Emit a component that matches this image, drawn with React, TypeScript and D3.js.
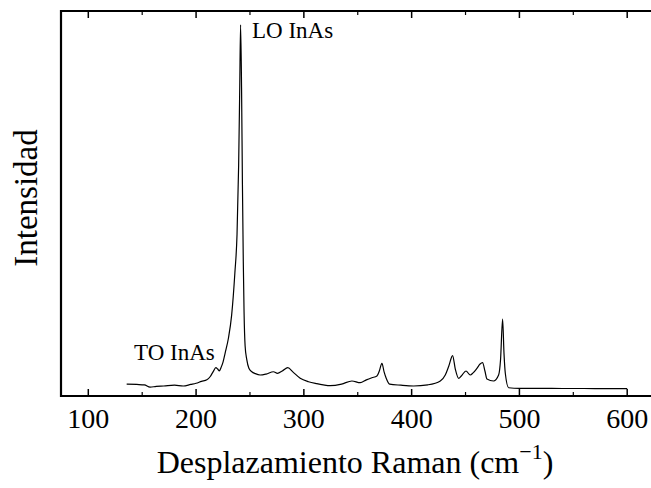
import React from "react";
import * as d3 from "d3";

const wavenumbers = [
  135.6, 145, 152, 157.3, 163, 170, 180, 188, 195, 200, 205, 210, 213, 216, 218.3, 220, 221.6, 223, 225,
  227, 230, 233, 236, 238, 239.5, 240.5, 241.3, 242.2, 243, 243.8, 244.5, 245.5, 247, 249, 251.7,
  255, 259.4, 265, 271.8, 275.5, 280, 285.1, 290, 296.6, 304.3, 312, 318, 324.3, 335, 344.6, 352.3,
  358, 363.1, 367.8, 370, 372.4, 374.5, 376.4, 379.5, 390, 401.8, 415, 426.6, 431.2, 434.5, 438, 440.5,
  443.6, 446.1, 450.4, 454.4, 457, 460.6, 463.5, 465.8, 468, 469.9, 476, 480.7, 482.5, 484.4, 485.7,
  486.9, 490, 500, 520, 540, 560, 580, 600,
];
const intensities = [
  3.1, 3.0, 2.9, 2.3, 2.5, 2.6, 2.8, 2.6, 3.0, 3.3, 3.8, 4.2, 5.0, 6.4, 7.35, 7.0, 6.5, 7.3, 8.8,
  11.2, 15, 21, 32, 42, 60, 80, 96.4, 80, 55, 35, 22, 13, 9.5, 7.2, 6.3,
  5.8, 5.45, 5.7, 6.3, 5.9, 6.5, 7.35, 6.2, 4.6, 3.7, 3.2, 2.9, 2.7, 3.1, 3.9, 3.45,
  4.2, 4.75, 5.2, 6.5, 8.5, 6.2, 4.6, 3.1, 2.8, 2.6, 2.9, 3.9, 5.45, 7.8, 10.5, 7.0,
  4.6, 5.2, 6.5, 5.45, 6.0, 7.2, 8.3, 8.65, 6.5, 4.4, 3.9, 5.45, 9.5, 20, 11,
  5.9, 2.15, 2.0, 2.0, 1.95, 1.95, 1.9, 1.9,
];

const xTickValues = [100, 200, 300, 400, 500, 600];
const xMinorTickValues = [150, 250, 350, 450, 550];
const peakLabels = ["LO InAs", "TO InAs"];
const xTitle = "Desplazamiento Raman (cm";
const yTitle = "Intensidad";

export default function App() {
  const width = 651;
  const height = 488;
  const left = 61;
  const top = 11;
  const bottom = 396;

  const x = d3.scaleLinear().domain([100, 600]).range([88.3, 627.2]);
  const y = d3.scaleLinear().domain([0, 100]).range([bottom, top]);

  const pts: [number, number][] = wavenumbers.map((w, i) => [w, intensities[i]]);
  const line = d3
    .line<[number, number]>()
    .x((d) => x(d[0]))
    .y((d) => y(d[1]))
    .curve(d3.curveMonotoneX);

  const font = "Liberation Serif";

  return (
    <svg
      width={width}
      height={height}
      style={{ position: "absolute", left: 0, top: 0, background: "#fff" }}
    >
      <path d={line(pts) || ""} fill="none" stroke="#000" strokeWidth={1.2} />
      <line x1={left} x2={width + 2} y1={top} y2={top} stroke="#000" strokeWidth={2} />
      <line x1={left} x2={width + 2} y1={bottom} y2={bottom} stroke="#000" strokeWidth={2} />
      <line x1={left} x2={left} y1={top - 1} y2={bottom + 1} stroke="#000" strokeWidth={2.2} />
      {xTickValues.map((t) => (
        <g key={"M" + t}>
          <line x1={x(t)} x2={x(t)} y1={bottom} y2={bottom - 7} stroke="#000" strokeWidth={1.5} />
          <line x1={x(t)} x2={x(t)} y1={top} y2={top + 7} stroke="#000" strokeWidth={1.5} />
          <text x={x(t)} y={428} textAnchor="middle" fontFamily={font} fontSize={28} fill="#000">
            {t}
          </text>
        </g>
      ))}
      {xMinorTickValues.map((t) => (
        <g key={"m" + t}>
          <line x1={x(t)} x2={x(t)} y1={bottom} y2={bottom - 4} stroke="#000" strokeWidth={1.2} />
          <line x1={x(t)} x2={x(t)} y1={top} y2={top + 4} stroke="#000" strokeWidth={1.2} />
        </g>
      ))}
      <text x={252} y={38} fontFamily={font} fontSize={23} fill="#000">
        {peakLabels[0]}
      </text>
      <text x={134} y={360} fontFamily={font} fontSize={23} fill="#000">
        {peakLabels[1]}
      </text>
      <text x={355} y={473} textAnchor="middle" fontFamily={font} fontSize={32} fill="#000">
        {xTitle}
        <tspan dy={-14} fontSize={22}>−1</tspan>
        <tspan dy={14}>)</tspan>
      </text>
      <text
        transform={`translate(37, 198) rotate(-90)`}
        textAnchor="middle"
        fontFamily={font}
        fontSize={33}
        fill="#000"
      >
        {yTitle}
      </text>
    </svg>
  );
}
